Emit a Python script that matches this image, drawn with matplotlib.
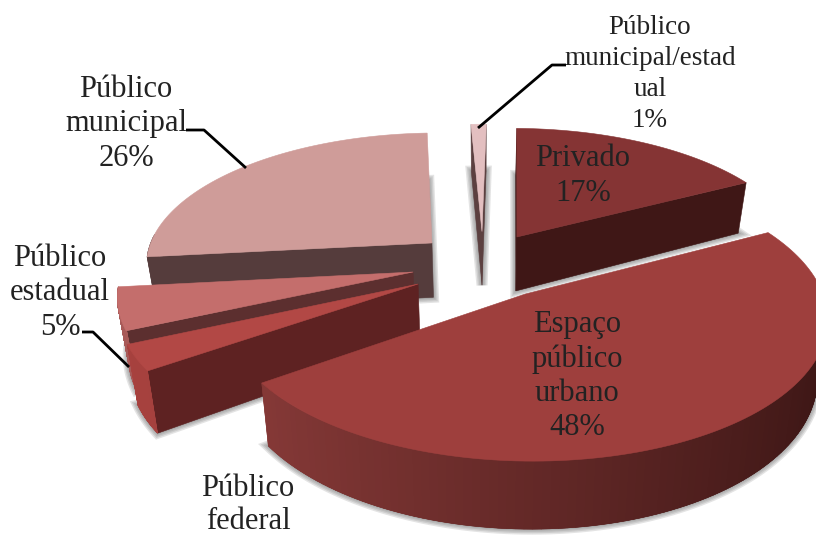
import numpy as np
import matplotlib
matplotlib.use("Agg")
import matplotlib.pyplot as plt
from matplotlib.patches import Polygon

categories = ["Privado", "Espaço público urbano", "Público federal",
              "Público estadual", "Público municipal", "Público municipal/estadual"]
values = [17, 48, 3, 5, 26, 1]

top_colors = ["#853434", "#9e3f3d", "#b24845", "#c46e6c", "#cf9c99", "#e3bfc0"]
wall_colors = ["#3f1716", "#5d2222", "#5e2222", "#5c2f2f", "#553c3c", "#5c4040"]
rim_light = ["#4a1b1a", "#8c3c3a", "#a8423f", "#a85a58", "#553c3c", "#c9a5a5"]
rim_dark = ["#3a1413", "#3c1615", "#8a3634", "#8a4a48", "#553c3c", "#a98585"]

# Displacement of each slice on the pie's ground plane.
offset_u = [0.125, 0.145, -0.217, -0.237, -0.178, 0.0]
offset_v = [0.256, -0.175, -0.103, -0.015, 0.208, 0.30]

W, H = 816, 535
CX, CY = 482, 270
RX, RY = 290, 134
PERSP = 0.15
DEPTH = 56
CONVERGE = 0.03
ROTATION = np.radians(1.0)


def project(u, v, z=0.0):
    w = 1 + PERSP * v
    return CX + RX * u / w * (1 - CONVERGE * z), CY - RY * v / w + DEPTH * z / w


fig = plt.figure(figsize=(W / 100, H / 100), dpi=100)
ax = fig.add_axes([0, 0, 1, 1])
ax.set_xlim(0, W)
ax.set_ylim(H, 0)
ax.axis("off")

fractions = np.array(values) / np.sum(values)
ends = np.cumsum(fractions) * 2 * np.pi + ROTATION
starts = ends - fractions * 2 * np.pi


def face(points, color, zorder):
    ax.add_patch(Polygon(points, closed=True, fc=color, ec=color, lw=0.4, zorder=zorder))


def rim_points(i, z):
    th = np.linspace(starts[i], ends[i], 120)
    return [project(offset_u[i] + np.sin(t), offset_v[i] + np.cos(t), z) for t in th]


def draw_shadow(i):
    # Soft grey halo around the underside of the slice.
    outline = [project(offset_u[i], offset_v[i], 1)] + rim_points(i, 1)
    for lw in (8, 6, 4, 2):
        ax.add_patch(Polygon(outline, closed=True, fc=(0.35, 0.35, 0.35, 0.16),
                             ec=(0.35, 0.35, 0.35, 0.16), lw=lw, zorder=0.5))


def draw_slice(i, base_z):
    a0, a1 = starts[i], ends[i]
    ou, ov = offset_u[i], offset_v[i]
    up, low = rim_points(i, 0), rim_points(i, 1)

    def corner(angle, z):
        return project(ou + np.sin(angle), ov + np.cos(angle), z)

    apex_top, apex_low = project(ou, ov, 0), project(ou, ov, 1)

    # Radial walls are drawn only when they face the viewer.
    if np.cos(a0 - np.pi / 2) < 0.02:
        face([apex_top, corner(a0, 0), corner(a0, 1), apex_low], wall_colors[i], base_z)
    if np.cos(a1 + np.pi / 2) < 0.02:
        face([apex_top, corner(a1, 0), corner(a1, 1), apex_low], wall_colors[i], base_z)

    # Outer rim: only the strips turned toward the viewer, overlapped to hide seams.
    dark, light = (np.array(matplotlib.colors.to_rgb(c)) for c in (rim_dark[i], rim_light[i]))
    th = np.linspace(a0, a1, len(up))
    for k in range(len(th) - 1):
        if np.cos(th[k]) > 0.05 and np.cos(th[k + 1]) > 0.05:
            continue
        shade = np.clip(0.5 - 0.5 * np.sin(th[k]), 0, 1)
        j = min(k + 2, len(th) - 1)
        face([up[k], up[j], low[j], low[k]], dark * (1 - shade) + light * shade, base_z + 0.1)

    face([apex_top] + up, top_colors[i], base_z + 0.3)


# Back slices first so that nearer ones cover them.
paint_order = [5, 4, 0, 3, 2, 1]
for idx in paint_order:
    draw_shadow(idx)
for z, idx in enumerate(paint_order):
    draw_slice(idx, z + 1)

FONT = dict(family="Liberation Serif", fontsize=22, color="#222222",
            ha="center", va="center", zorder=20, linespacing=1.27)
ax.text(583, 176, "Privado\n17%", **FONT)
ax.text(577, 376, "Espaço\npúblico\nurbano\n48%", **dict(FONT, linespacing=1.22))
ax.text(248, 505, "Público\nfederal", **dict(FONT, linespacing=1.2))
ax.text(60, 293, "Público\nestadual\n5%", **FONT)
ax.text(126, 124, "Público\nmunicipal\n26%", **FONT)
ax.text(650, 74, "Público\nmunicipal/estad\nual\n1%",
        **dict(FONT, fontsize=19.5, linespacing=1.32))

LEADER = dict(color="black", lw=2, zorder=21, solid_capstyle="butt")
ax.plot([186, 204, 246], [130, 130, 168], **LEADER)
ax.plot([82, 93, 129], [332, 332, 367], **LEADER)
ax.plot([566, 552, 478], [65, 65, 128], **LEADER)

fig.savefig("out.png", dpi=100, facecolor="white")
